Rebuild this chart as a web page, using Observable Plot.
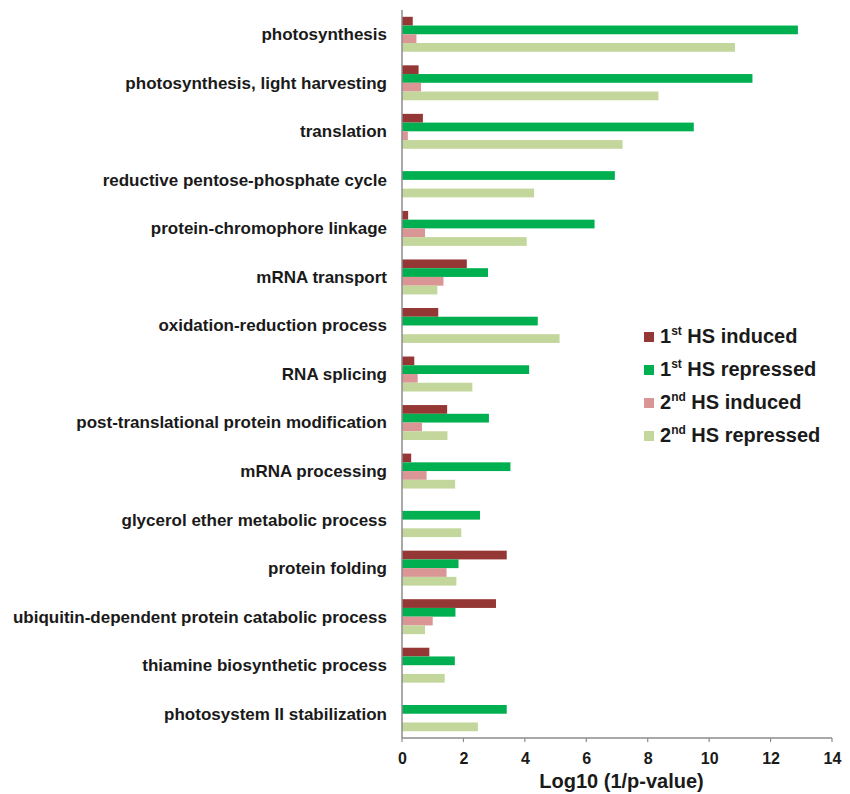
<!DOCTYPE html>
<html>
<head>
<meta charset="utf-8">
<script src="https://cdn.jsdelivr.net/npm/d3@7"></script>
<script src="https://cdn.jsdelivr.net/npm/@observablehq/plot@0.6"></script>
<style>
  html, body { margin: 0; padding: 0; background: #fff; }
  #chart { position: relative; width: 850px; height: 794px; font-family: "Liberation Sans", Arial, sans-serif; }
  #legend { position: absolute; left: 644px; top: 320px; font-weight: bold; font-size: 20px; color: #1a1a1a; }
  #legend .row { display: flex; align-items: center; height: 33px; }
  #legend .sw { width: 10px; height: 10px; margin-right: 6px; }
  #legend sup { font-size: 12px; line-height: 0; vertical-align: 8px; }
</style>
</head>
<body>
<div id="chart"><div id="legend"></div></div>
<script>
// GO terms, top to bottom
const categories = [
  "photosynthesis",
  "photosynthesis, light harvesting",
  "translation",
  "reductive pentose-phosphate cycle",
  "protein-chromophore linkage",
  "mRNA transport",
  "oxidation-reduction process",
  "RNA splicing",
  "post-translational protein modification",
  "mRNA processing",
  "glycerol ether metabolic process",
  "protein folding",
  "ubiquitin-dependent protein catabolic process",
  "thiamine biosynthetic process",
  "photosystem II stabilization"
];

const series = ["1st HS induced", "1st HS repressed", "2nd HS induced", "2nd HS repressed"];

// Log10 (1/p-value) per term; 0 = no enrichment
const induced1   = [0.35, 0.54, 0.68, 0, 0.20, 2.11, 1.18, 0.40, 1.47, 0.30, 0, 3.41, 3.06, 0.89, 0];
const repressed1 = [12.89, 11.41, 9.50, 6.93, 6.27, 2.80, 4.42, 4.14, 2.83, 3.53, 2.54, 1.84, 1.74, 1.72, 3.41];
const induced2   = [0.47, 0.62, 0.19, 0, 0.75, 1.35, 0, 0.51, 0.65, 0.80, 0, 1.45, 1.00, 0, 0];
const repressed2 = [10.84, 8.35, 7.18, 4.30, 4.06, 1.15, 5.13, 2.29, 1.48, 1.73, 1.93, 1.77, 0.75, 1.39, 2.47];

const xTicks = [0, 2, 4, 6, 8, 10, 12, 14];
const colors = ["#953735", "#00b050", "#d99694", "#c3d69b"];

const seriesValues = [induced1, repressed1, induced2, repressed2];
const rows = categories.flatMap((category, i) =>
  series.map((s, j) => ({category, series: s, value: seriesValues[j][i]}))
).filter(d => d.value > 0);

const W = 850, H = 794;
const margin = {top: 10, right: 18, bottom: 56, left: 402};
const axisColor = "#8c8c8c";

const plot = Plot.plot({
  width: W,
  height: H,
  marginTop: margin.top,
  marginRight: margin.right,
  marginBottom: margin.bottom,
  marginLeft: margin.left,
  style: {fontFamily: "'Liberation Sans', Arial, sans-serif", fontWeight: "bold", color: "#1a1a1a", background: "#fff"},
  x: {domain: [0, 14]},
  fy: {domain: categories, paddingInner: 0.28, paddingOuter: 0.14, round: false, label: null},
  y: {domain: series, padding: 0, round: false, axis: null},
  color: {domain: series, range: colors},
  marks: [
    Plot.barX(rows, {fy: "category", y: "series", x: "value", fill: "series"}),
    Plot.axisFy({anchor: "left", tickSize: 0, tickPadding: 15.5, label: null, fontSize: 17}),
    Plot.axisX({
      ticks: xTicks, tickSize: 0, tickPadding: 21, fontSize: 16,
      label: "Log10 (1/p-value)", labelAnchor: "center", labelArrow: "none", labelOffset: 56
    })
  ]
});

document.getElementById("chart").prepend(plot);

// Axis lines and tick marks spanning the whole plot area
const x = plot.scale("x");
const svg = d3.select(plot);
const yBase = H - margin.bottom;
svg.append("line")
  .attr("x1", x.apply(0)).attr("x2", x.apply(0))
  .attr("y1", margin.top).attr("y2", yBase)
  .attr("stroke", axisColor).attr("stroke-width", 1.5);
svg.append("line")
  .attr("x1", x.apply(0)).attr("x2", x.apply(14))
  .attr("y1", yBase).attr("y2", yBase)
  .attr("stroke", axisColor).attr("stroke-width", 1.5);
svg.append("g").selectAll("line").data(xTicks).join("line")
  .attr("x1", d => x.apply(d)).attr("x2", d => x.apply(d))
  .attr("y1", yBase).attr("y2", yBase + 4)
  .attr("stroke", axisColor).attr("stroke-width", 1.2);
svg.selectAll("[aria-label='x-axis label'] text")
  .attr("font-size", 20).attr("fill", "#1a1a1a").attr("dx", 4);

// Legend
const legend = d3.select("#legend");
series.forEach((s, j) => {
  const num = s.slice(0, 1);
  const sup = s.slice(1, 3);
  const tail = s.slice(3);
  const row = legend.append("div").attr("class", "row");
  row.append("div").attr("class", "sw").style("background", colors[j]);
  row.append("span").html(`${num}<sup>${sup}</sup>${tail.replace(" ", "&nbsp;")}`);
});
</script>
</body>
</html>
